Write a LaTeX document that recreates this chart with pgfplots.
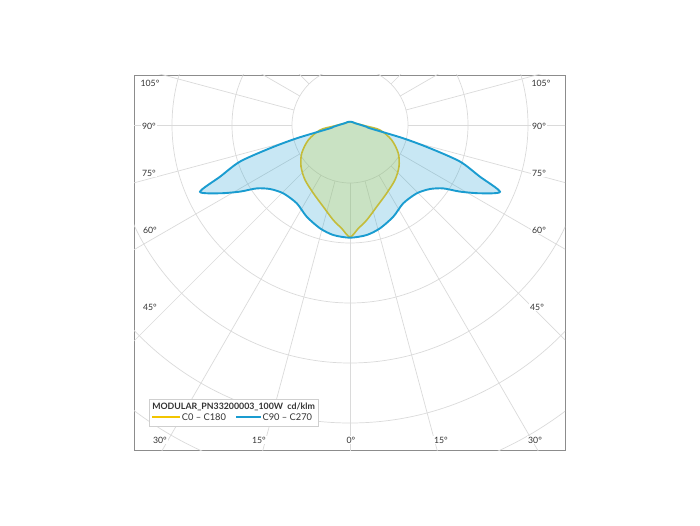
\documentclass[border=0pt]{standalone}
\usepackage{pgfplots}
\pgfplotsset{compat=1.18}
\usepackage{fontspec}
\setmainfont{Lato}
\definecolor{gridc}{HTML}{DADADA}
\definecolor{framec}{HTML}{8C8C8C}
\definecolor{bluec}{HTML}{1A9CD0}
\definecolor{yellc}{HTML}{C4BC3A}
\definecolor{yellfill}{HTML}{CDD652}
\definecolor{yelleg}{HTML}{F2C500}
\definecolor{labc}{HTML}{333333}
\definecolor{legc}{HTML}{CFCFCF}
\tikzset{lbl/.style={fill=white, inner sep=1.2pt, text=labc, font=\fontsize{8.7}{10}\selectfont}}
\begin{document}
\begin{tikzpicture}[x=1pt,y=1pt]
\path (-134,-75) rectangle (566,450);
\begin{axis}[
  scale only axis, width=431pt, height=375pt,
  xmin=-216, xmax=215, ymin=-325, ymax=50,
  axis lines=box, axis line style={framec, line width=0.8pt},
  ticks=none, clip=true,
]
% grid circles
\pgfplotsinvokeforeach{58,118,178,238,298,358,418}{
  \draw[gridc, line width=0.7pt] (axis cs:0,0) circle[radius=#1];
}
% spokes
\pgfplotsinvokeforeach{-270,-255,...,90}{
  \draw[gridc, line width=0.7pt] (axis cs:{58*cos(#1)},{58*sin(#1)}) -- (axis cs:{460*cos(#1)},{460*sin(#1)});
}
% C90 - C270 fill
\addplot[draw=none, fill=bluec, fill opacity=0.24, data cs=polar, smooth, tension=0.45] coordinates {
(-270,3.3) (-230,3.8) (-199,5.5) (-181,10.5) (-173,17.5) (-170.6,20.3) (-166,55) (-163.8,83.3) (-161.6,116) (-158.3,139.9) (-156,164.2)
(-152.3,146.9) (-148.8,128.6) (-145.8,112.8) (-141.3,102.4) (-134.3,95.5) (-124.2,94.7) (-115.3,101.4) (-106.2,107.6) (-98.6,111.3) (-90,112.7)
(-81.4,111.3) (-73.8,107.6) (-64.7,101.4) (-55.8,94.7) (-45.7,95.5) (-38.7,102.4) (-34.2,112.8) (-31.2,128.6) (-27.7,146.9) (-24,164.2)
(-21.7,139.9) (-18.4,116) (-16.2,83.3) (-14,55) (-9.4,20.3) (-7,17.5) (1,10.5) (19,5.5) (50,3.8) (90,3.3)
};
% C0 - C180 fill
\addplot[draw=none, fill=yellfill, fill opacity=0.3, data cs=polar, smooth, tension=0.5] coordinates {
(-270,3.3) (-230,3.7) (-200,5.2) (-185,9) (-176,16.5) (-170.5,30.4) (-160.2,44.3) (-149.6,56) (-139.6,64.3) (-129.3,71) (-118.2,77.5) (-108.1,86) (-100,96.5) (-94.6,103.8) (-90,112)
(-85.4,103.8) (-80,96.5) (-71.9,86) (-61.8,77.5) (-50.7,71) (-40.4,64.3) (-30.4,56) (-19.8,44.3) (-9.5,30.4) (-4,16.5) (5,9) (20,5.2) (50,3.7) (90,3.3)
};
% C0 - C180 line
\addplot[yellc, line width=1.6pt, data cs=polar, smooth, tension=0.5] coordinates {
(-270,3.3) (-230,3.7) (-200,5.2) (-185,9) (-176,16.5) (-170.5,30.4) (-160.2,44.3) (-149.6,56) (-139.6,64.3) (-129.3,71) (-118.2,77.5) (-108.1,86) (-100,96.5) (-94.6,103.8) (-90,112)
(-85.4,103.8) (-80,96.5) (-71.9,86) (-61.8,77.5) (-50.7,71) (-40.4,64.3) (-30.4,56) (-19.8,44.3) (-9.5,30.4) (-4,16.5) (5,9) (20,5.2) (50,3.7) (90,3.3)
};
% C90 - C270 line
\addplot[bluec, line width=1.9pt, data cs=polar, smooth, tension=0.45] coordinates {
(-270,3.3) (-230,3.8) (-199,5.5) (-181,10.5) (-173,17.5) (-170.6,20.3) (-166,55) (-163.8,83.3) (-161.6,116) (-158.3,139.9) (-156,164.2)
(-152.3,146.9) (-148.8,128.6) (-145.8,112.8) (-141.3,102.4) (-134.3,95.5) (-124.2,94.7) (-115.3,101.4) (-106.2,107.6) (-98.6,111.3) (-90,112.7)
(-81.4,111.3) (-73.8,107.6) (-64.7,101.4) (-55.8,94.7) (-45.7,95.5) (-38.7,102.4) (-34.2,112.8) (-31.2,128.6) (-27.7,146.9) (-24,164.2)
(-21.7,139.9) (-18.4,116) (-16.2,83.3) (-14,55) (-9.4,20.3) (-7,17.5) (1,10.5) (19,5.5) (50,3.8) (90,3.3)
};
% angle labels
\node[lbl] at (axis cs:-200,42) {105°};
\node[lbl] at (axis cs:191,42) {105°};
\node[lbl] at (axis cs:-201,-1) {90°};
\node[lbl] at (axis cs:189,-1) {90°};
\node[lbl] at (axis cs:-201,-48) {75°};
\node[lbl] at (axis cs:189,-48) {75°};
\node[lbl] at (axis cs:-200,-105) {60°};
\node[lbl] at (axis cs:189,-105) {60°};
\node[lbl] at (axis cs:-200,-182) {45°};
\node[lbl] at (axis cs:187,-182) {45°};
\node[lbl] at (axis cs:-190,-315) {30°};
\node[lbl] at (axis cs:-91,-315) {15°};
\node[lbl] at (axis cs:1,-315) {0°};
\node[lbl] at (axis cs:91,-315) {15°};
\node[lbl] at (axis cs:185,-315) {30°};
% legend
\node[draw=legc, line width=0.6pt, fill=white, anchor=north west, inner xsep=3pt, inner ysep=2.8pt, text=labc, font=\fontsize{8.8}{11}\selectfont] at (axis cs:-201,-274)
{\begin{tabular}{@{}l@{}}
\textbf{MODULAR\_PN33200003\_100W\ \ cd/klm}\\[-0.5pt]
{\fontsize{9.3}{11}\selectfont{\color{yelleg}\rule[0.28em]{28pt}{1.8pt}}\,C0 – C180\hspace{10pt}{\color{bluec}\rule[0.28em]{25pt}{1.8pt}}\,C90 – C270}
\end{tabular}};
\end{axis}
\end{tikzpicture}
\end{document}
